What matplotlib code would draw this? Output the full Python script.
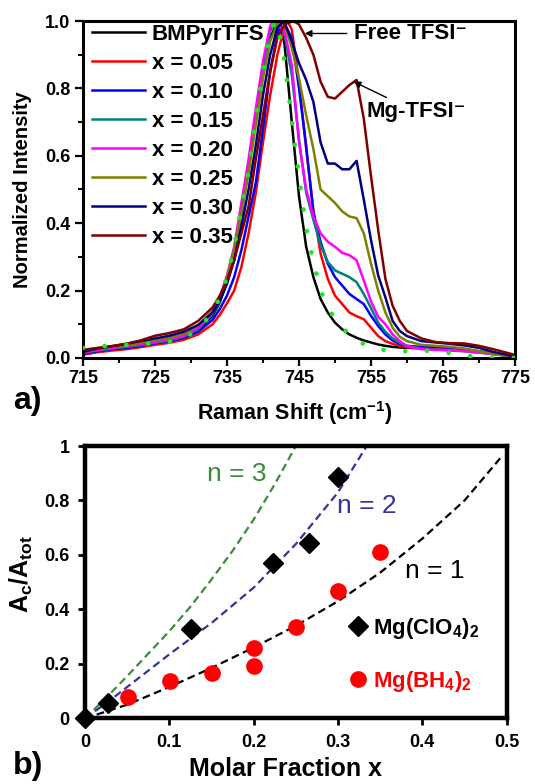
import numpy as np
import matplotlib
matplotlib.use('Agg')
import matplotlib.pyplot as plt

plt.rcParams['font.family'] = ['Liberation Sans', 'DejaVu Sans']
plt.rcParams['font.weight'] = 'bold'
plt.rcParams['mathtext.fontset'] = 'custom'
plt.rcParams['mathtext.rm'] = 'Liberation Sans'
plt.rcParams['mathtext.bf'] = 'Liberation Sans:bold'
plt.rcParams['mathtext.it'] = 'Liberation Sans:italic'

# ---------------- a) Raman spectra (values read off the picture) ----------------
wn = [715, 717, 719, 721, 723, 725, 727, 729, 731, 733, 734, 735, 736, 737, 738, 739,
      740, 741, 742, 743, 744, 745, 746, 747, 748, 749, 750, 751, 752, 753, 754, 755,
      756, 757, 758, 759, 760, 762, 764, 766, 768, 770, 772, 775]

int_pure = [0.014, 0.02, 0.025, 0.03, 0.036, 0.043, 0.05, 0.06, 0.082, 0.125, 0.165, 0.225,
            0.31, 0.43, 0.56, 0.71, 0.85, 0.95, 0.995,
            0.93, 0.70, 0.48, 0.33, 0.24, 0.175, 0.135, 0.105, 0.085, 0.07, 0.06, 0.052,
            0.046, 0.04, 0.036, 0.033, 0.031, 0.03, 0.029, 0.028, 0.026, 0.022, 0.018, 0.013, 0.006]
int_fit = [0.03, 0.034, 0.037, 0.039, 0.041, 0.044, 0.048, 0.058, 0.085, 0.135, 0.18, 0.24,
           0.33, 0.445, 0.555, 0.71, 0.85, 0.97, 0.995,
           0.88, 0.71, 0.538, 0.385, 0.286, 0.2, 0.152, 0.115, 0.09, 0.07, 0.05, 0.042,
           0.034, 0.027, 0.023, 0.021, 0.02, 0.02, 0.022, 0.02, 0.015, 0.007, 0.003, 0.001, 0.0]
int_005 = [0.01, 0.017, 0.022, 0.026, 0.032, 0.039, 0.045, 0.054, 0.07, 0.1, 0.128, 0.162,
           0.2, 0.27, 0.37, 0.49, 0.64, 0.78, 0.9, 0.985,
           0.975, 0.82, 0.62, 0.44, 0.31, 0.235, 0.185, 0.16, 0.135, 0.124, 0.115, 0.09,
           0.065, 0.05, 0.042, 0.036, 0.032, 0.03, 0.03, 0.028, 0.024, 0.018, 0.012, 0.004]
int_010 = [0.012, 0.02, 0.026, 0.03, 0.036, 0.043, 0.05, 0.06, 0.078, 0.113, 0.145, 0.185,
           0.24, 0.32, 0.42, 0.52, 0.68, 0.85, 0.96,
           0.99, 0.95, 0.80, 0.63, 0.43, 0.345, 0.28, 0.24, 0.215, 0.19, 0.175, 0.16,
           0.125, 0.095, 0.07, 0.052, 0.042, 0.036, 0.033, 0.032, 0.03, 0.026, 0.02, 0.014, 0.005]
int_015 = [0.015, 0.022, 0.028, 0.033, 0.038, 0.045, 0.052, 0.063, 0.085, 0.13, 0.17, 0.23,
           0.31, 0.43, 0.56, 0.71, 0.86, 0.97, 0.995,
           0.96, 0.84, 0.65, 0.49, 0.41, 0.335, 0.285, 0.26, 0.25, 0.24, 0.225, 0.19,
           0.148, 0.105, 0.078, 0.058, 0.045, 0.036, 0.028, 0.025, 0.022, 0.02, 0.016, 0.011, 0.004]
int_020 = [0.016, 0.024, 0.03, 0.035, 0.041, 0.048, 0.055, 0.066, 0.09, 0.135, 0.18, 0.245,
           0.33, 0.46, 0.59, 0.74, 0.88, 0.985,
           0.99, 0.97, 0.87, 0.64, 0.5, 0.42, 0.37, 0.345, 0.33, 0.312, 0.305, 0.29, 0.23,
           0.168, 0.122, 0.1, 0.07, 0.05, 0.035, 0.026, 0.024, 0.024, 0.02, 0.016, 0.012, 0.004]
int_025 = [0.02, 0.027, 0.033, 0.038, 0.045, 0.053, 0.06, 0.072, 0.095, 0.14, 0.18, 0.24,
           0.32, 0.43, 0.55, 0.69, 0.83, 0.94, 0.99,
           0.99, 0.92, 0.83, 0.72, 0.62, 0.5, 0.48, 0.46, 0.435, 0.42, 0.415, 0.37,
           0.28, 0.2, 0.135, 0.09, 0.063, 0.05, 0.039, 0.036, 0.033, 0.028, 0.02, 0.013, 0.002]
int_030 = [0.018, 0.028, 0.035, 0.042, 0.05, 0.058, 0.066, 0.078, 0.098, 0.135, 0.17, 0.22,
           0.29, 0.39, 0.5, 0.63, 0.78, 0.9, 0.98,
           0.995, 0.94, 0.875, 0.825, 0.76, 0.64, 0.577, 0.577, 0.56, 0.56, 0.585, 0.47,
           0.35, 0.245, 0.18, 0.11, 0.08, 0.065, 0.05, 0.046, 0.042, 0.037, 0.03, 0.018, 0.004]
int_035 = [0.024, 0.03, 0.035, 0.042, 0.052, 0.066, 0.074, 0.085, 0.11, 0.15, 0.185, 0.23,
           0.29, 0.37, 0.45, 0.59, 0.72, 0.85, 0.95, 0.99, 0.998,
           0.99, 0.95, 0.9, 0.82, 0.775, 0.77, 0.79, 0.81, 0.825, 0.71, 0.54,
           0.38, 0.235, 0.155, 0.11, 0.08, 0.058, 0.047, 0.044, 0.043, 0.036, 0.026, 0.009]

# position of the normalised maximum (1.0) of each spectrum
peak_pos = {'pure': 742.3, 'fit': 741.8, '0.05': 743.4, '0.10': 742.7, '0.15': 741.8,
            '0.20': 741.4, '0.25': 742.6, '0.30': 742.9, '0.35': 744.2}

spec_labels = ['BMPyrTFS', 'x = 0.05', 'x = 0.10', 'x = 0.15', 'x = 0.20',
               'x = 0.25', 'x = 0.30', 'x = 0.35']
spec_keys = ['pure', '0.05', '0.10', '0.15', '0.20', '0.25', '0.30', '0.35']
spec_data = [int_pure, int_005, int_010, int_015, int_020, int_025, int_030, int_035]
spec_colors = ['#000000', '#ff0000', '#0000ff', '#008080', '#ff00ff',
               '#808000', '#000080', '#800000']

# ---------------- b) complex fraction vs molar fraction ----------------
x_clo4 = [0.0, 0.0277, 0.1255, 0.2226, 0.2661, 0.3005]
y_clo4 = [0.0, 0.057, 0.327, 0.569, 0.645, 0.887]
x_bh4 = [0.0514, 0.1008, 0.150, 0.2004, 0.2004, 0.2498, 0.300, 0.350]
y_bh4 = [0.077, 0.137, 0.168, 0.259, 0.193, 0.336, 0.469, 0.612]

x_n1 = [0, 0.05, 0.1, 0.15, 0.2, 0.25, 0.3, 0.35, 0.4, 0.45, 0.495]
y_n1 = [0, 0.05, 0.115, 0.185, 0.26, 0.34, 0.43, 0.535, 0.66, 0.8, 0.965]
x_n2 = [0, 0.025, 0.05, 0.1, 0.15, 0.2, 0.25, 0.3, 0.334]
y_n2 = [0, 0.055, 0.115, 0.235, 0.35, 0.48, 0.64, 0.83, 1.0]
x_n3 = [0, 0.025, 0.05, 0.1, 0.125, 0.15, 0.175, 0.2, 0.225, 0.25]
y_n3 = [0, 0.075, 0.155, 0.32, 0.41, 0.51, 0.615, 0.73, 0.86, 1.0]


def with_peak(vals, xp):
    x = np.append(np.array(wn, dtype=float), xp)
    y = np.append(np.array(vals, dtype=float), 1.0)
    o = np.argsort(x)
    return x[o], y[o]


fig = plt.figure(figsize=(5.35, 7.84), dpi=100)

# ----------------------------- panel a -----------------------------
ax1 = fig.add_axes([0.1551, 0.5434, 0.8075, 0.4298])
for key, lab, vals, col in zip(spec_keys, spec_labels, spec_data, spec_colors):
    xs, ys = with_peak(vals, peak_pos[key])
    ax1.plot(xs, ys, color=col, lw=1.8, label=lab)
xs, ys = with_peak(int_fit, peak_pos['fit'])
ax1.plot(xs, ys, color='#22e522', lw=3.4, linestyle=(0, (0.01, 4.6)),
         dash_capstyle='round', zorder=4)

ax1.set_xlim(715, 775)
ax1.set_ylim(0, 1.0)
ax1.set_xticks(np.arange(715, 776, 10))
ax1.set_xticks(np.arange(720, 775, 10), minor=True)
ax1.set_yticks(np.arange(0, 1.01, 0.2))
ax1.set_yticks(np.arange(0.1, 1.0, 0.2), minor=True)
ax1.set_yticklabels(['%.1f' % v for v in np.arange(0, 1.01, 0.2)])
ax1.tick_params(which='major', direction='out', length=6, width=1.6, labelsize=13, pad=3)
ax1.tick_params(which='minor', direction='out', length=3.5, width=1.4)
for sp in ax1.spines.values():
    sp.set_linewidth(2.2)

ax1.set_ylabel('Normalized Intensity', fontsize=14.5, fontweight='bold')
ax1.yaxis.set_label_coords(-0.118, 0.5)
ax1.set_xlabel(r'Raman Shift (cm$^{\mathbf{-1}}$)', fontsize=15.5, fontweight='bold')
ax1.xaxis.set_label_coords(0.49, -0.122)

ax1.legend(loc='upper left', bbox_to_anchor=(91.7 / 535, 1 - 24 / 784),
           bbox_transform=fig.transFigure, frameon=False, fontsize=16,
           handlelength=2.4, handletextpad=0.3, labelspacing=0.36,
           borderpad=0, borderaxespad=0)

ax1.annotate('Free TFSI\u207b', xy=(745.8, 0.963), xytext=(752.6, 0.963),
             fontsize=16, ha='left', va='center',
             arrowprops=dict(arrowstyle='-|>', color='k', lw=1.0,
                             mutation_scale=10, shrinkA=3, shrinkB=0))
ax1.annotate('Mg-TFSI\u207b', xy=(752.6, 0.82), xytext=(754.4, 0.73),
             fontsize=16, ha='left', va='center',
             arrowprops=dict(arrowstyle='-|>', color='k', lw=1.0,
                             mutation_scale=10, shrinkA=2, shrinkB=0))

# ----------------------------- panel b -----------------------------
ax2 = fig.add_axes([0.1589, 0.0838, 0.7882, 0.3473])
ax2.plot(x_n3, y_n3, color='#3c8a3c', lw=1.6, linestyle=(0, (3.5, 2)))
ax2.plot(x_n2, y_n2, color='#33339a', lw=1.6, linestyle=(0, (3.5, 2)))
ax2.plot(x_n1, y_n1, color='black', lw=1.6, linestyle=(0, (3.5, 2)))
ax2.plot(x_clo4, y_clo4, linestyle='none', marker='D', ms=10.5, color='black',
         label=r'Mg(ClO$_{\mathbf{4}}$)$_{\mathbf{2}}$', clip_on=False, zorder=5)
ax2.plot(x_bh4, y_bh4, linestyle='none', marker='o', ms=11, color='#ff0000',
         label=r'Mg(BH$_{\mathbf{4}}$)$_{\mathbf{2}}$', zorder=5)

ax2.set_xlim(0, 0.5)
ax2.set_ylim(0, 1)
ax2.set_xticks(np.arange(0, 0.51, 0.1))
ax2.set_xticklabels(['0', '0.1', '0.2', '0.3', '0.4', '0.5'])
ax2.set_yticks(np.arange(0, 1.01, 0.2))
ax2.set_yticklabels(['0', '0.2', '0.4', '0.6', '0.8', '1'])
ax2.tick_params(direction='out', length=5, width=2, labelsize=13, pad=6)
for sp in ax2.spines.values():
    sp.set_linewidth(3.2)

ax2.text(0.18, 0.897, 'n = 3', color='#3c8a3c', fontsize=19, fontweight='normal',
         ha='center', va='center')
ax2.text(0.334, 0.78, 'n = 2', color='#33339a', fontsize=19, fontweight='normal',
         ha='center', va='center')
ax2.text(0.415, 0.541, 'n = 1', color='black', fontsize=19, fontweight='normal',
         ha='center', va='center')

ax2.legend(loc='upper left', bbox_to_anchor=(349 / 535, 1 - 616 / 784),
           bbox_transform=fig.transFigure, frameon=False, fontsize=16,
           handlelength=0.8, handletextpad=0.3, labelspacing=1.25,
           borderpad=0, borderaxespad=0, labelcolor='markerfacecolor')

ax2.set_ylabel(r'A$_{\mathbf{c}}$/A$_{\mathbf{tot}}$', fontsize=18, fontweight='bold')
ax2.yaxis.set_label_coords(-0.119, 0.53)
ax2.set_xlabel('Molar Fraction x', fontsize=18, fontweight='bold')
ax2.xaxis.set_label_coords(0.475, -0.142)

fig.text(27 / 535, 1 - 401 / 784, 'a)', fontsize=23, ha='center', va='center')
fig.text(28 / 535, 1 - 766 / 784, 'b)', fontsize=23, ha='center', va='center')

fig.savefig('out.png', dpi=100)
